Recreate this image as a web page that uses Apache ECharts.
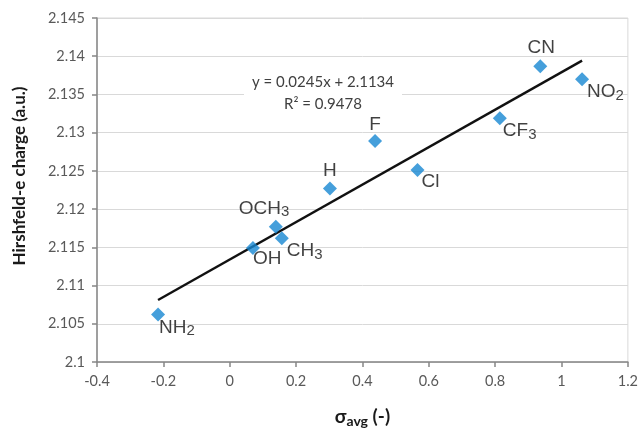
<!DOCTYPE html>
<html>
<head>
<meta charset="utf-8">
<script src="https://cdn.jsdelivr.net/npm/echarts@6/dist/echarts.min.js"></script>
<style>
  html, body { margin: 0; padding: 0; background: #ffffff; }
  #chart { width: 641px; height: 433px; }
</style>
</head>
<body>
<div id="chart"></div>
<script>
// Substituents and their values
const substituents = ['NH2', 'OH', 'CH3', 'OCH3', 'H', 'F', 'Cl', 'CF3', 'CN', 'NO2'];
const sigmaAvg     = [-0.216, 0.070, 0.157, 0.139, 0.302, 0.438, 0.566, 0.814, 0.936, 1.062];
const charge       = [2.1062, 2.1149, 2.1162, 2.1177, 2.1227, 2.1289, 2.1251, 2.1319, 2.1387, 2.1370];

// Linear fit reported on the chart
const fitSlope = 0.0245;
const fitIntercept = 2.1134;
const fitR2 = 0.9478;

// Axis ranges
const xRange = { min: -0.4, max: 1.2, step: 0.2 };
const yRange = { min: 2.1, max: 2.145, step: 0.005 };

// Where each substituent label sits relative to its marker
const labelPlacement = {
  NH2:  { align: 'left',   dx: 1,   dy: 13 },
  OH:   { align: 'left',   dx: 0,   dy: 11 },
  CH3:  { align: 'left',   dx: 5,   dy: 13 },
  OCH3: { align: 'left',   dx: -37, dy: -18 },
  H:    { align: 'center', dx: 0,   dy: -18 },
  F:    { align: 'center', dx: 0,   dy: -16 },
  Cl:   { align: 'left',   dx: 4,   dy: 12 },
  CF3:  { align: 'left',   dx: 3,   dy: 13 },
  CN:   { align: 'center', dx: 1,   dy: -18 },
  NO2:  { align: 'left',   dx: 5,   dy: 13 }
};

// Digits in chemical formulas are written as subscripts
function formula(name) {
  return name.replace(/(\d+)/g, '{sub|$1}');
}

const points = substituents.map((name, i) => {
  const p = labelPlacement[name];
  return {
    name: name,
    value: [sigmaAvg[i], charge[i]],
    label: {
      position: 'inside',
      align: p.align,
      verticalAlign: 'middle',
      offset: [p.dx, p.dy]
    }
  };
});

const xMinData = Math.min(...sigmaAvg);
const xMaxData = Math.max(...sigmaAvg);
const fitLine = [
  [xMinData, fitSlope * xMinData + fitIntercept],
  [xMaxData, fitSlope * xMaxData + fitIntercept]
];

const tickFont = 'Lato, "Open Sans", sans-serif';
const labelFont = '"Liberation Sans", Arial, sans-serif';
const fmt = v => String(parseFloat(v.toFixed(4)));

const chart = echarts.init(document.getElementById('chart'), null, { renderer: 'canvas' });

chart.setOption({
  animation: false,
  backgroundColor: '#ffffff',
  grid: {
    left: 97, right: 13, top: 18, bottom: 67,
    show: true, borderColor: '#d9d9d9', borderWidth: 1
  },
  xAxis: {
    type: 'value',
    min: xRange.min, max: xRange.max, interval: xRange.step,
    splitLine: { show: false },
    axisLine: { show: true, onZero: false, lineStyle: { color: '#868686', width: 1.5 } },
    axisTick: { show: true, inside: false, length: 5, lineStyle: { color: '#868686', width: 1.5 } },
    axisLabel: { color: '#595959', fontFamily: tickFont, fontSize: 14.5, margin: 12, formatter: fmt },
    name: '{g|σ}{s|avg}{g| (-)}',
    nameLocation: 'middle',
    nameGap: 44,
    nameTextStyle: {
      rich: {
        g: { fontFamily: tickFont, fontWeight: 'bold', fontSize: 19, color: '#1a1a1a', lineHeight: 22 },
        s: { fontFamily: tickFont, fontWeight: 'bold', fontSize: 14, color: '#1a1a1a', lineHeight: 6, verticalAlign: 'bottom' }
      }
    }
  },
  yAxis: {
    type: 'value',
    min: yRange.min, max: yRange.max, interval: yRange.step,
    splitLine: { show: true, lineStyle: { color: '#d9d9d9', width: 1 } },
    axisLine: { show: true, onZero: false, lineStyle: { color: '#868686', width: 1.5 } },
    axisTick: { show: true, inside: false, length: 5, lineStyle: { color: '#868686', width: 1.5 } },
    axisLabel: { color: '#595959', fontFamily: tickFont, fontSize: 14.5, margin: 12, formatter: fmt }
  },
  graphic: [
    {
      type: 'text',
      x: 20, y: 176,
      rotation: Math.PI / 2,
      style: {
        text: 'Hirshfeld-e charge (a.u.)',
        fontFamily: tickFont, fontWeight: 'bold', fontSize: 17,
        fill: '#1a1a1a', align: 'center', verticalAlign: 'middle'
      }
    },
    {
      type: 'text',
      x: 323, y: 93, z: 10,
      style: {
        text: 'y = ' + fitSlope + 'x + ' + fitIntercept + '\nR² = ' + fitR2,
        fontFamily: tickFont, fontSize: 15, lineHeight: 22,
        fill: '#404040', align: 'center', verticalAlign: 'middle',
        backgroundColor: '#ffffff', padding: [0, 8]
      }
    }
  ],
  series: [
    {
      type: 'line',
      data: fitLine,
      symbol: 'none',
      lineStyle: { color: '#111111', width: 2.4 },
      z: 2
    },
    {
      type: 'scatter',
      data: points,
      symbol: 'diamond',
      symbolSize: 14,
      itemStyle: { color: '#1787d2' },
      z: 3,
      label: {
        show: true,
        formatter: p => formula(p.name),
        fontFamily: labelFont,
        fontSize: 19, lineHeight: 22, color: '#111111',
        rich: {
          sub: { fontFamily: labelFont, fontSize: 15, lineHeight: 4, verticalAlign: 'bottom', color: '#111111' }
        }
      }
    }
  ]
});
</script>
</body>
</html>
